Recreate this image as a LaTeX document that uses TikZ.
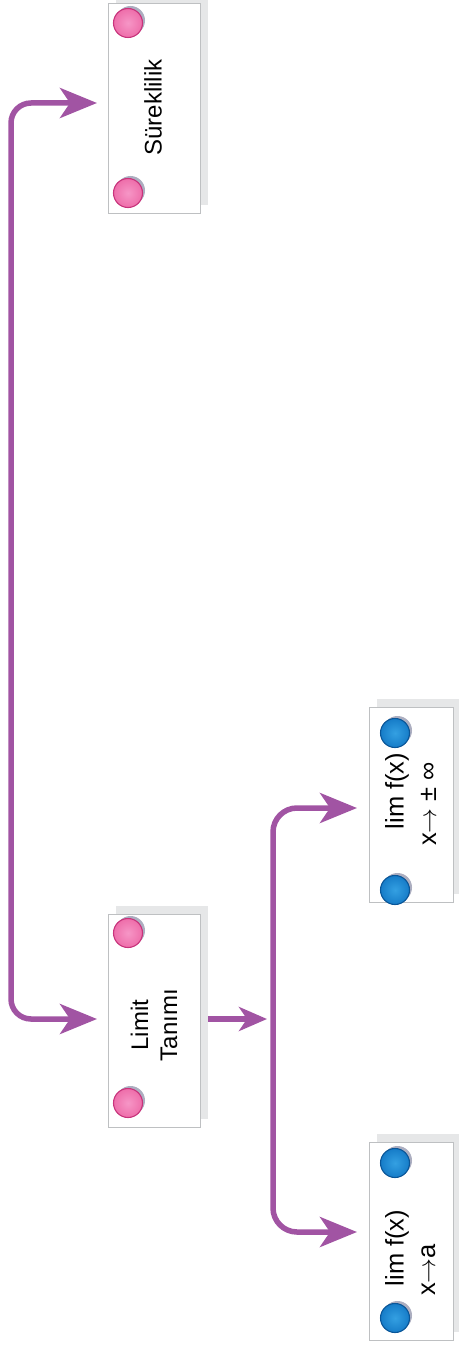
\documentclass[tikz,border=0pt]{standalone}
\usepackage{fontspec}
\setmainfont{Liberation Sans}
\usetikzlibrary{arrows.meta,shadows}

\definecolor{flowpurple}{RGB}{161,84,163}
\definecolor{cardline}{RGB}{190,192,194}
\definecolor{cardshade}{RGB}{230,231,232}
\definecolor{pinklight}{RGB}{246,150,198}
\definecolor{pinkfill}{RGB}{238,110,170}
\definecolor{pinkrim}{RGB}{200,52,124}
\definecolor{bluelight}{RGB}{52,160,226}
\definecolor{bluefill}{RGB}{22,124,200}
\definecolor{bluerim}{RGB}{10,86,152}
\definecolor{pinshade}{RGB}{172,174,192}

\tikzset{
  bigtip/.tip={Stealth[length=37pt, width=30pt, inset=10pt]},
  smalltip/.tip={Stealth[length=28pt, width=24pt, inset=8pt]}
}

\begin{document}
\begin{tikzpicture}[x=1pt,y=-1pt,
  card/.style={rectangle, draw=cardline, line width=0.9pt, fill=white, inner sep=0pt,
    general shadow={fill=cardshade, shadow xshift=8pt, shadow yshift=8pt}},
  pin/.style={circle, minimum size=29pt, inner sep=0pt, line width=1.1pt,
    general shadow={fill=pinshade, shadow xshift=2.5pt, shadow yshift=2.5pt}},
  pinpink/.style={pin, draw=pinkrim, inner color=pinklight, outer color=pinkfill},
  pinblue/.style={pin, draw=bluerim, inner color=bluelight, outer color=bluefill},
  cardtext/.style={rotate=90, inner sep=0pt, align=center,
    font=\fontsize{24}{29}\selectfont},
  limtext/.style={rotate=90, inner sep=0pt, font=\fontsize{25.5}{30}\selectfont},
  flow/.style={draw=flowpurple, line width=5.5pt}
]
\useasboundingbox (0,0) rectangle (458,1348);

% cards
\node[card, minimum width=92pt, minimum height=210pt] (sure)  at (154,108)    {};
\node[card, minimum width=92pt, minimum height=213pt] (limit) at (154,1020.5) {};
\node[card, minimum width=84pt, minimum height=195pt] (inf)   at (411,804.5)  {};
\node[card, minimum width=84pt, minimum height=198pt] (ata)   at (411,1241)   {};

% pins
\node[pinpink] (sureP1)  at (128,23)   {};
\node[pinpink] (sureP2)  at (128,193)  {};
\node[pinpink] (limitP1) at (128,933)  {};
\node[pinpink] (limitP2) at (128,1103) {};
\node[pinblue] (infP1)   at (395,733)  {};
\node[pinblue] (infP2)   at (395,890)  {};
\node[pinblue] (ataP1)   at (395,1163) {};
\node[pinblue] (ataP2)   at (395,1318) {};

% labels
\node[cardtext] (sureT)  at (153,107.5) {Süreklilik};
\node[cardtext] (limitT) at (154,1025)  {Limit\\Tanımı};
\node[limtext] (infT1) at (397,791)   {lim f(x)};
\node[limtext] (infT2) at (428.5,804) {x$\rightarrow$ ± ∞};
\node[limtext] (ataT1) at (397,1248)  {lim f(x)};
\node[limtext] (ataT2) at (428.5,1270) {x$\rightarrow$a};

% connectors
\coordinate (sureIn)   at (97,103);
\coordinate (limitIn)  at (97,1019);
\coordinate (railTop)  at (11,103);
\coordinate (railBot)  at (11,1019);
\draw[flow, rounded corners=20pt, bigtip-bigtip]
  (sureIn) -- (railTop) -- (railBot) -- (limitIn);

\coordinate (limitOut) at ([xshift=8pt]limit.east |- limitIn);
\coordinate (splitIn)  at (267,1019);
\draw[flow, -smalltip] (limitOut) -- (splitIn);

\coordinate (infIn)    at (357,808);
\coordinate (ataIn)    at (357,1232);
\coordinate (splitTop) at (273,808);
\coordinate (splitBot) at (273,1232);
\draw[flow, rounded corners=24pt, bigtip-bigtip]
  (infIn) -- (splitTop) -- (splitBot) -- (ataIn);
\end{tikzpicture}
\end{document}
